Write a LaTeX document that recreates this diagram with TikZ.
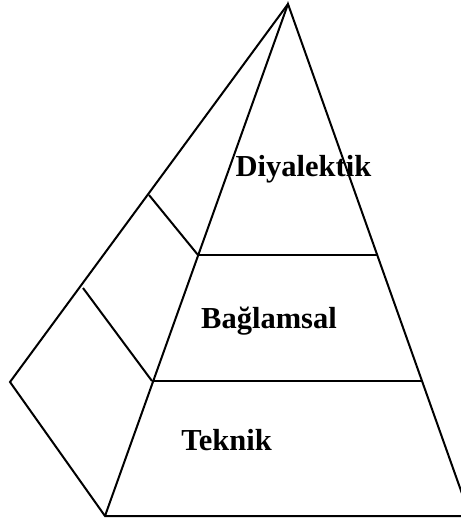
\documentclass[tikz,border=0pt]{standalone}
\usepackage{fontspec}
\setmainfont{Liberation Serif}
\tikzset{
  edge/.style={line width=2pt, line join=miter, black},
  lbl/.style={anchor=base, inner sep=0pt, font=\fontsize{30.5}{32}\selectfont\bfseries}
}
\begin{document}
\begin{tikzpicture}[x=1pt,y=-1pt]
\useasboundingbox (0,0) rectangle (461,523);
\clip (0,0) rectangle (461,523);
\coordinate (A) at (288,4);
\coordinate (L) at (10,382);
\coordinate (BL) at (105,516);
\coordinate (BR) at (470,516);
\coordinate (BE) at (470,516);
\coordinate (M1L) at (198,255);
\coordinate (M1R) at (377,255);
\coordinate (M2L) at (152,381);
\coordinate (M2R) at (422,381);
\coordinate (S1) at (149,195);
\coordinate (S2) at (83,288);
\draw[edge] (BL) -- (A) -- (BR);
\draw[edge] (A) -- (L) -- (BL) -- (BE);
\draw[edge] (M1L) -- (M1R);
\draw[edge] (M2L) -- (M2R);
\draw[edge] (S1) -- (M1L);
\draw[edge] (S2) -- (M2L);
\node[lbl] (t1) at (303.5,176.7) {Diyalektik};
\node[lbl] (t2) at (269,328.3) {Bağlamsal};
\node[lbl] (t3) at (226.5,450) {Teknik};
\end{tikzpicture}
\end{document}
